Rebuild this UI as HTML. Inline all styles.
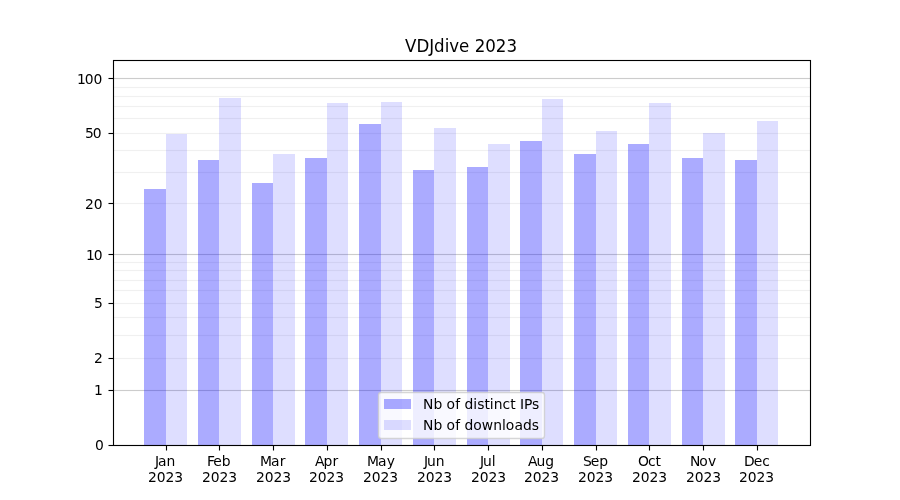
<!DOCTYPE html>
<html lang="en"><head><meta charset="utf-8"><title>VDJdive 2023</title>
<style>
html,body{margin:0;padding:0;background:#fff}
body{width:900px;height:500px;overflow:hidden}
svg{display:block}
text{font-family:"DejaVu Sans","Liberation Sans",sans-serif;fill:#000}
.t10{font-size:13.889px}
.t12{font-size:16.667px}
</style></head><body>
<svg width="900" height="500" viewBox="0 0 900 500">
<rect width="900" height="500" fill="#fff"/>
<g shape-rendering="crispEdges">
<rect x="113" y="390" width="697" height="1" fill="#808080" fill-opacity="0.4"/><rect x="113" y="389" width="697" height="1" fill="#808080" fill-opacity="0.0222"/><rect x="113" y="391" width="697" height="1" fill="#808080" fill-opacity="0.0222"/>
<rect x="113" y="254" width="697" height="1" fill="#808080" fill-opacity="0.4"/><rect x="113" y="253" width="697" height="1" fill="#808080" fill-opacity="0.0222"/><rect x="113" y="255" width="697" height="1" fill="#808080" fill-opacity="0.0222"/>
<rect x="113" y="78" width="697" height="1" fill="#808080" fill-opacity="0.4"/><rect x="113" y="77" width="697" height="1" fill="#808080" fill-opacity="0.0222"/><rect x="113" y="79" width="697" height="1" fill="#808080" fill-opacity="0.0222"/>
<rect x="113" y="358" width="697" height="1" fill="#808080" fill-opacity="0.118"/><rect x="113" y="357" width="697" height="1" fill="#808080" fill-opacity="0.0080"/><rect x="113" y="359" width="697" height="1" fill="#808080" fill-opacity="0.0080"/>
<rect x="113" y="335" width="697" height="1" fill="#808080" fill-opacity="0.118"/><rect x="113" y="334" width="697" height="1" fill="#808080" fill-opacity="0.0080"/><rect x="113" y="336" width="697" height="1" fill="#808080" fill-opacity="0.0080"/>
<rect x="113" y="317" width="697" height="1" fill="#808080" fill-opacity="0.118"/><rect x="113" y="316" width="697" height="1" fill="#808080" fill-opacity="0.0080"/><rect x="113" y="318" width="697" height="1" fill="#808080" fill-opacity="0.0080"/>
<rect x="113" y="303" width="697" height="1" fill="#808080" fill-opacity="0.118"/><rect x="113" y="302" width="697" height="1" fill="#808080" fill-opacity="0.0080"/><rect x="113" y="304" width="697" height="1" fill="#808080" fill-opacity="0.0080"/>
<rect x="113" y="290" width="697" height="1" fill="#808080" fill-opacity="0.118"/><rect x="113" y="289" width="697" height="1" fill="#808080" fill-opacity="0.0080"/><rect x="113" y="291" width="697" height="1" fill="#808080" fill-opacity="0.0080"/>
<rect x="113" y="280" width="697" height="1" fill="#808080" fill-opacity="0.118"/><rect x="113" y="279" width="697" height="1" fill="#808080" fill-opacity="0.0080"/><rect x="113" y="281" width="697" height="1" fill="#808080" fill-opacity="0.0080"/>
<rect x="113" y="270" width="697" height="1" fill="#808080" fill-opacity="0.118"/><rect x="113" y="269" width="697" height="1" fill="#808080" fill-opacity="0.0080"/><rect x="113" y="271" width="697" height="1" fill="#808080" fill-opacity="0.0080"/>
<rect x="113" y="262" width="697" height="1" fill="#808080" fill-opacity="0.118"/><rect x="113" y="261" width="697" height="1" fill="#808080" fill-opacity="0.0080"/><rect x="113" y="263" width="697" height="1" fill="#808080" fill-opacity="0.0080"/>
<rect x="113" y="203" width="697" height="1" fill="#808080" fill-opacity="0.118"/><rect x="113" y="202" width="697" height="1" fill="#808080" fill-opacity="0.0080"/><rect x="113" y="204" width="697" height="1" fill="#808080" fill-opacity="0.0080"/>
<rect x="113" y="172" width="697" height="1" fill="#808080" fill-opacity="0.118"/><rect x="113" y="171" width="697" height="1" fill="#808080" fill-opacity="0.0080"/><rect x="113" y="173" width="697" height="1" fill="#808080" fill-opacity="0.0080"/>
<rect x="113" y="150" width="697" height="1" fill="#808080" fill-opacity="0.118"/><rect x="113" y="149" width="697" height="1" fill="#808080" fill-opacity="0.0080"/><rect x="113" y="151" width="697" height="1" fill="#808080" fill-opacity="0.0080"/>
<rect x="113" y="133" width="697" height="1" fill="#808080" fill-opacity="0.118"/><rect x="113" y="132" width="697" height="1" fill="#808080" fill-opacity="0.0080"/><rect x="113" y="134" width="697" height="1" fill="#808080" fill-opacity="0.0080"/>
<rect x="113" y="118" width="697" height="1" fill="#808080" fill-opacity="0.118"/><rect x="113" y="117" width="697" height="1" fill="#808080" fill-opacity="0.0080"/><rect x="113" y="119" width="697" height="1" fill="#808080" fill-opacity="0.0080"/>
<rect x="113" y="106" width="697" height="1" fill="#808080" fill-opacity="0.118"/><rect x="113" y="105" width="697" height="1" fill="#808080" fill-opacity="0.0080"/><rect x="113" y="107" width="697" height="1" fill="#808080" fill-opacity="0.0080"/>
<rect x="113" y="96" width="697" height="1" fill="#808080" fill-opacity="0.118"/><rect x="113" y="95" width="697" height="1" fill="#808080" fill-opacity="0.0080"/><rect x="113" y="97" width="697" height="1" fill="#808080" fill-opacity="0.0080"/>
<rect x="113" y="87" width="697" height="1" fill="#808080" fill-opacity="0.118"/><rect x="113" y="86" width="697" height="1" fill="#808080" fill-opacity="0.0080"/><rect x="113" y="88" width="697" height="1" fill="#808080" fill-opacity="0.0080"/>
<rect x="113" y="444" width="697" height="1" fill="#808080" fill-opacity="0.0222"/>
<rect x="144" y="189" width="22" height="256" fill="#00f" fill-opacity="0.33"/><rect x="166" y="134" width="21" height="311" fill="#00f" fill-opacity="0.13"/>
<rect x="198" y="160" width="21" height="285" fill="#00f" fill-opacity="0.33"/><rect x="219" y="98" width="22" height="347" fill="#00f" fill-opacity="0.13"/>
<rect x="252" y="183" width="21" height="262" fill="#00f" fill-opacity="0.33"/><rect x="273" y="154" width="22" height="291" fill="#00f" fill-opacity="0.13"/>
<rect x="305" y="158" width="22" height="287" fill="#00f" fill-opacity="0.33"/><rect x="327" y="103" width="21" height="342" fill="#00f" fill-opacity="0.13"/>
<rect x="359" y="124" width="22" height="321" fill="#00f" fill-opacity="0.33"/><rect x="381" y="102" width="21" height="343" fill="#00f" fill-opacity="0.13"/>
<rect x="413" y="170" width="21" height="275" fill="#00f" fill-opacity="0.33"/><rect x="434" y="128" width="22" height="317" fill="#00f" fill-opacity="0.13"/>
<rect x="467" y="167" width="21" height="278" fill="#00f" fill-opacity="0.33"/><rect x="488" y="144" width="22" height="301" fill="#00f" fill-opacity="0.13"/>
<rect x="520" y="141" width="22" height="304" fill="#00f" fill-opacity="0.33"/><rect x="542" y="99" width="21" height="346" fill="#00f" fill-opacity="0.13"/>
<rect x="574" y="154" width="22" height="291" fill="#00f" fill-opacity="0.33"/><rect x="596" y="131" width="21" height="314" fill="#00f" fill-opacity="0.13"/>
<rect x="628" y="144" width="21" height="301" fill="#00f" fill-opacity="0.33"/><rect x="649" y="103" width="22" height="342" fill="#00f" fill-opacity="0.13"/>
<rect x="682" y="158" width="21" height="287" fill="#00f" fill-opacity="0.33"/><rect x="703" y="133" width="22" height="312" fill="#00f" fill-opacity="0.13"/>
<rect x="735" y="160" width="22" height="285" fill="#00f" fill-opacity="0.33"/><rect x="757" y="121" width="21" height="324" fill="#00f" fill-opacity="0.13"/>
<rect x="166" y="445" width="1" height="5" fill="#000"/><rect x="165" y="445" width="1" height="5" fill="#000" fill-opacity="0.055"/><rect x="167" y="445" width="1" height="5" fill="#000" fill-opacity="0.055"/>
<rect x="219" y="445" width="1" height="5" fill="#000"/><rect x="218" y="445" width="1" height="5" fill="#000" fill-opacity="0.055"/><rect x="220" y="445" width="1" height="5" fill="#000" fill-opacity="0.055"/>
<rect x="273" y="445" width="1" height="5" fill="#000"/><rect x="272" y="445" width="1" height="5" fill="#000" fill-opacity="0.055"/><rect x="274" y="445" width="1" height="5" fill="#000" fill-opacity="0.055"/>
<rect x="327" y="445" width="1" height="5" fill="#000"/><rect x="326" y="445" width="1" height="5" fill="#000" fill-opacity="0.055"/><rect x="328" y="445" width="1" height="5" fill="#000" fill-opacity="0.055"/>
<rect x="381" y="445" width="1" height="5" fill="#000"/><rect x="380" y="445" width="1" height="5" fill="#000" fill-opacity="0.055"/><rect x="382" y="445" width="1" height="5" fill="#000" fill-opacity="0.055"/>
<rect x="434" y="445" width="1" height="5" fill="#000"/><rect x="433" y="445" width="1" height="5" fill="#000" fill-opacity="0.055"/><rect x="435" y="445" width="1" height="5" fill="#000" fill-opacity="0.055"/>
<rect x="488" y="445" width="1" height="5" fill="#000"/><rect x="487" y="445" width="1" height="5" fill="#000" fill-opacity="0.055"/><rect x="489" y="445" width="1" height="5" fill="#000" fill-opacity="0.055"/>
<rect x="542" y="445" width="1" height="5" fill="#000"/><rect x="541" y="445" width="1" height="5" fill="#000" fill-opacity="0.055"/><rect x="543" y="445" width="1" height="5" fill="#000" fill-opacity="0.055"/>
<rect x="596" y="445" width="1" height="5" fill="#000"/><rect x="595" y="445" width="1" height="5" fill="#000" fill-opacity="0.055"/><rect x="597" y="445" width="1" height="5" fill="#000" fill-opacity="0.055"/>
<rect x="649" y="445" width="1" height="5" fill="#000"/><rect x="648" y="445" width="1" height="5" fill="#000" fill-opacity="0.055"/><rect x="650" y="445" width="1" height="5" fill="#000" fill-opacity="0.055"/>
<rect x="703" y="445" width="1" height="5" fill="#000"/><rect x="702" y="445" width="1" height="5" fill="#000" fill-opacity="0.055"/><rect x="704" y="445" width="1" height="5" fill="#000" fill-opacity="0.055"/>
<rect x="757" y="445" width="1" height="5" fill="#000"/><rect x="756" y="445" width="1" height="5" fill="#000" fill-opacity="0.055"/><rect x="758" y="445" width="1" height="5" fill="#000" fill-opacity="0.055"/>
<rect x="109" y="445" width="4" height="1" fill="#000"/><rect x="109" y="444" width="4" height="1" fill="#000" fill-opacity="0.055"/><rect x="109" y="446" width="4" height="1" fill="#000" fill-opacity="0.055"/>
<rect x="109" y="390" width="4" height="1" fill="#000"/><rect x="109" y="389" width="4" height="1" fill="#000" fill-opacity="0.055"/><rect x="109" y="391" width="4" height="1" fill="#000" fill-opacity="0.055"/>
<rect x="109" y="358" width="4" height="1" fill="#000"/><rect x="109" y="357" width="4" height="1" fill="#000" fill-opacity="0.055"/><rect x="109" y="359" width="4" height="1" fill="#000" fill-opacity="0.055"/>
<rect x="109" y="303" width="4" height="1" fill="#000"/><rect x="109" y="302" width="4" height="1" fill="#000" fill-opacity="0.055"/><rect x="109" y="304" width="4" height="1" fill="#000" fill-opacity="0.055"/>
<rect x="109" y="254" width="4" height="1" fill="#000"/><rect x="109" y="253" width="4" height="1" fill="#000" fill-opacity="0.055"/><rect x="109" y="255" width="4" height="1" fill="#000" fill-opacity="0.055"/>
<rect x="109" y="203" width="4" height="1" fill="#000"/><rect x="109" y="202" width="4" height="1" fill="#000" fill-opacity="0.055"/><rect x="109" y="204" width="4" height="1" fill="#000" fill-opacity="0.055"/>
<rect x="109" y="133" width="4" height="1" fill="#000"/><rect x="109" y="132" width="4" height="1" fill="#000" fill-opacity="0.055"/><rect x="109" y="134" width="4" height="1" fill="#000" fill-opacity="0.055"/>
<rect x="109" y="78" width="4" height="1" fill="#000"/><rect x="109" y="77" width="4" height="1" fill="#000" fill-opacity="0.055"/><rect x="109" y="79" width="4" height="1" fill="#000" fill-opacity="0.055"/>
</g>
<g shape-rendering="crispEdges">
<rect x="113" y="60" width="698" height="1" fill="#000"/><rect x="113" y="445" width="698" height="1" fill="#000"/><rect x="113" y="60" width="1" height="386" fill="#000"/><rect x="810" y="60" width="1" height="386" fill="#000"/>
<rect x="113" y="59" width="698" height="1" fill="#000" fill-opacity="0.055"/><rect x="114" y="61" width="696" height="1" fill="#000" fill-opacity="0.055"/><rect x="114" y="444" width="696" height="1" fill="#000" fill-opacity="0.055"/><rect x="113" y="446" width="698" height="1" fill="#000" fill-opacity="0.055"/><rect x="112" y="60" width="1" height="386" fill="#000" fill-opacity="0.055"/><rect x="114" y="61" width="1" height="384" fill="#000" fill-opacity="0.055"/><rect x="809" y="61" width="1" height="384" fill="#000" fill-opacity="0.055"/><rect x="811" y="60" width="1" height="386" fill="#000" fill-opacity="0.055"/>
</g>
<g shape-rendering="crispEdges" fill="#000" fill-opacity="0.5"><rect x="166" y="450" width="1" height="1"/><rect x="165" y="450" width="1" height="1" fill-opacity="0.0275"/><rect x="167" y="450" width="1" height="1" fill-opacity="0.0275"/><rect x="219" y="450" width="1" height="1"/><rect x="218" y="450" width="1" height="1" fill-opacity="0.0275"/><rect x="220" y="450" width="1" height="1" fill-opacity="0.0275"/><rect x="273" y="450" width="1" height="1"/><rect x="272" y="450" width="1" height="1" fill-opacity="0.0275"/><rect x="274" y="450" width="1" height="1" fill-opacity="0.0275"/><rect x="327" y="450" width="1" height="1"/><rect x="326" y="450" width="1" height="1" fill-opacity="0.0275"/><rect x="328" y="450" width="1" height="1" fill-opacity="0.0275"/><rect x="381" y="450" width="1" height="1"/><rect x="380" y="450" width="1" height="1" fill-opacity="0.0275"/><rect x="382" y="450" width="1" height="1" fill-opacity="0.0275"/><rect x="434" y="450" width="1" height="1"/><rect x="433" y="450" width="1" height="1" fill-opacity="0.0275"/><rect x="435" y="450" width="1" height="1" fill-opacity="0.0275"/><rect x="488" y="450" width="1" height="1"/><rect x="487" y="450" width="1" height="1" fill-opacity="0.0275"/><rect x="489" y="450" width="1" height="1" fill-opacity="0.0275"/><rect x="542" y="450" width="1" height="1"/><rect x="541" y="450" width="1" height="1" fill-opacity="0.0275"/><rect x="543" y="450" width="1" height="1" fill-opacity="0.0275"/><rect x="596" y="450" width="1" height="1"/><rect x="595" y="450" width="1" height="1" fill-opacity="0.0275"/><rect x="597" y="450" width="1" height="1" fill-opacity="0.0275"/><rect x="649" y="450" width="1" height="1"/><rect x="648" y="450" width="1" height="1" fill-opacity="0.0275"/><rect x="650" y="450" width="1" height="1" fill-opacity="0.0275"/><rect x="703" y="450" width="1" height="1"/><rect x="702" y="450" width="1" height="1" fill-opacity="0.0275"/><rect x="704" y="450" width="1" height="1" fill-opacity="0.0275"/><rect x="757" y="450" width="1" height="1"/><rect x="756" y="450" width="1" height="1" fill-opacity="0.0275"/><rect x="758" y="450" width="1" height="1" fill-opacity="0.0275"/><rect x="108" y="445" width="1" height="1"/><rect x="108" y="444" width="1" height="1" fill-opacity="0.0275"/><rect x="108" y="446" width="1" height="1" fill-opacity="0.0275"/><rect x="108" y="390" width="1" height="1"/><rect x="108" y="389" width="1" height="1" fill-opacity="0.0275"/><rect x="108" y="391" width="1" height="1" fill-opacity="0.0275"/><rect x="108" y="358" width="1" height="1"/><rect x="108" y="357" width="1" height="1" fill-opacity="0.0275"/><rect x="108" y="359" width="1" height="1" fill-opacity="0.0275"/><rect x="108" y="303" width="1" height="1"/><rect x="108" y="302" width="1" height="1" fill-opacity="0.0275"/><rect x="108" y="304" width="1" height="1" fill-opacity="0.0275"/><rect x="108" y="254" width="1" height="1"/><rect x="108" y="253" width="1" height="1" fill-opacity="0.0275"/><rect x="108" y="255" width="1" height="1" fill-opacity="0.0275"/><rect x="108" y="203" width="1" height="1"/><rect x="108" y="202" width="1" height="1" fill-opacity="0.0275"/><rect x="108" y="204" width="1" height="1" fill-opacity="0.0275"/><rect x="108" y="133" width="1" height="1"/><rect x="108" y="132" width="1" height="1" fill-opacity="0.0275"/><rect x="108" y="134" width="1" height="1" fill-opacity="0.0275"/><rect x="108" y="78" width="1" height="1"/><rect x="108" y="77" width="1" height="1" fill-opacity="0.0275"/><rect x="108" y="79" width="1" height="1" fill-opacity="0.0275"/></g>
<rect x="378.5" y="392.45" width="166.0" height="46.0" rx="2.78" ry="2.78" fill="#fff" fill-opacity="0.8" stroke="#ccc" stroke-opacity="0.8" stroke-width="1.389"/>
<g shape-rendering="crispEdges"><rect x="384" y="399" width="27" height="10" fill="#00f" fill-opacity="0.33"/><rect x="384" y="420" width="27" height="10" fill="#00f" fill-opacity="0.13"/></g>
<text class="t12" transform="translate(0,52) scale(1,1.07)" x="405.11 416.5 429.33 433.98 444.81 449.19 459.04 469.29 474.83 485.19 495.78 506.39">VDJdive 2023</text>
<g class="t10">
<text x="423.06 433.43 441.98 446.4 455.14 459.78 464.43 473.25 477.34 484.58 489.76 493.87 502.42 510.29 515.23 519.89 523.98 532.11" y="409">Nb of distinct IPs</text>
<text x="423.01 433.39 442.43 446.6 455.34 460.23 464.39 473.2 481.68 493.28 502.07 505.68 514.42 522.92 531.73" y="430">Nb of downloads</text>
<text x="94.89" y="450">0</text><text x="94.04" y="395">1</text><text x="93.93" y="363">2</text><text x="94.11" y="308">5</text><text x="86.08 93.65" y="260">10</text><text x="85.1 93.67" y="209">20</text><text x="85.04 92.86" y="138">50</text><text x="77.03 84.84 93.42" y="84">100</text>
<text x="155.02 158.1 166.62" y="466">Jan</text><text x="148 156.82 165.39 174.22" y="482">2023</text>
<text x="207.11 213.33 221.86" y="466">Feb</text><text x="201.97 210.79 219.61 228.19" y="482">2023</text>
<text x="260.03 270.99 279.74" y="466">Mar</text><text x="255.95 264.77 273.59 282.17" y="482">2023</text>
<text x="315.12 323.61 332.42" y="466">Apr</text><text x="308.95 317.77 326.59 335.17" y="482">2023</text>
<text x="366.97 377.93 386.68" y="466">May</text><text x="362.96 371.78 380.6 389.18" y="482">2023</text>
<text x="424.01 427.08 435.63" y="466">Jun</text><text x="416.97 425.79 434.61 443.19" y="482">2023</text>
<text x="480.11 482.93 491.73" y="466">Jul</text><text x="470.99 479.81 488.38 497.21" y="482">2023</text>
<text x="527.93 536.42 545.21" y="466">Aug</text><text x="524 532.82 541.39 550.22" y="482">2023</text>
<text x="583.01 590.81 599.36" y="466">Sep</text><text x="578 586.82 595.39 604.22" y="482">2023</text>
<text x="637.95 648.11 655.5" y="466">Oct</text><text x="631.98 640.8 649.62 658.2" y="482">2023</text>
<text x="690.1 699.23 707.96" y="466">Nov</text><text x="685.95 694.77 703.59 712.17" y="482">2023</text>
<text x="743.98 753.65 762.2" y="466">Dec</text><text x="738.95 747.77 756.59 765.17" y="482">2023</text>
</g>
</svg>
</body></html>
